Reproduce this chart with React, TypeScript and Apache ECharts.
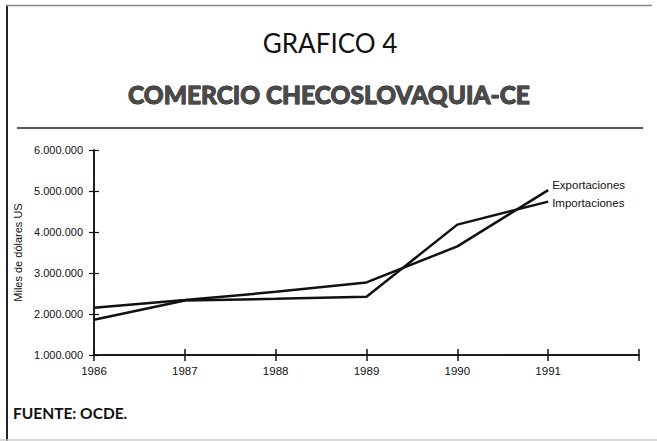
import React, { useEffect, useRef } from "react";
import * as echarts from "echarts";

const years = [1986, 1987, 1988, 1989, 1990, 1991];
const exportaciones = [2150000, 2340000, 2540000, 2770000, 3650000, 5020000];
const importaciones = [1860000, 2330000, 2370000, 2420000, 4180000, 4740000];
const seriesNames = ["Exportaciones", "Importaciones"];
const yMin = 1000000;
const yMax = 6000000;
const yStep = 1000000;
const xMin = 1986;
const xMax = 1992;

const NARROW = "'Liberation Sans', Arial, sans-serif";
const GEO = "Lato, 'Open Sans', sans-serif";
const INK = "#111";

function fmt(v: number): string {
  return String(Math.round(v)).replace(/\B(?=(\d{3})+(?!\d))/g, ".");
}

export default function App() {
  const ref = useRef<HTMLDivElement>(null);
  useEffect(() => {
    if (!ref.current) return;
    const chart = echarts.init(ref.current, null, { renderer: "svg" });
    const lineSeries = (name: string, vals: number[], offset: number[]) => ({
      name,
      type: "line",
      xAxisIndex: 0,
      yAxisIndex: 0,
      data: years.map((y, i) => [y, vals[i]]),
      symbol: "none",
      lineStyle: { color: INK, width: 2.5 },
      itemStyle: { color: INK },
      endLabel: {
        show: true,
        formatter: "{a}",
        distance: 4,
        offset,
        color: INK,
        fontFamily: NARROW,
        fontSize: 11.5,
      },
    });
    const xCommon = {
      type: "value",
      min: xMin,
      max: xMax,
      interval: 1,
      position: "bottom",
      splitLine: { show: false },
      axisLine: { show: true, lineStyle: { color: INK, width: 1.5 } },
    };
    const yCommon = {
      type: "value",
      min: yMin,
      max: yMax,
      interval: yStep,
      position: "left",
      splitLine: { show: false },
      axisLine: { show: true, lineStyle: { color: INK, width: 1.5 } },
    };
    chart.setOption({
      animation: false,
      backgroundColor: "#fff",
      grid: { left: 94, right: 18, top: 150, bottom: 86, containLabel: false },
      xAxis: [
        {
          ...xCommon,
          axisTick: { show: true, length: 6, lineStyle: { color: INK, width: 1.5 } },
          axisLabel: {
            formatter: (v: number) => (v === xMax ? "" : String(v)),
            margin: 10,
            color: INK,
            fontFamily: NARROW,
            fontSize: 11.5,
          },
        },
        {
          ...xCommon,
          axisTick: { show: true, inside: true, length: 6, lineStyle: { color: INK, width: 1.5 } },
          axisLabel: { show: false },
        },
      ],
      yAxis: [
        {
          ...yCommon,
          name: "Miles de dólares US",
          nameLocation: "middle",
          nameGap: 67,
          nameRotate: 90,
          nameTextStyle: { color: INK, fontFamily: NARROW, fontSize: 11 },
          axisTick: { show: true, length: 5, lineStyle: { color: INK, width: 1.2 } },
          axisLabel: {
            formatter: (v: number) => fmt(v),
            margin: 11,
            color: INK,
            fontFamily: NARROW,
            fontSize: 11,
          },
        },
        {
          ...yCommon,
          axisTick: { show: true, inside: true, length: 5, lineStyle: { color: INK, width: 1.2 } },
          axisLabel: { show: false },
        },
      ],
      series: [
        lineSeries(seriesNames[0], exportaciones, [0, -5]),
        lineSeries(seriesNames[1], importaciones, [0, 1]),
      ],
      graphic: [
        { type: "line", shape: { x1: 7, y1: 5, x2: 7, y2: 441 }, style: { stroke: "#222", lineWidth: 2 } },
        { type: "line", shape: { x1: 6, y1: 5.5, x2: 652, y2: 5.5 }, style: { stroke: "#888", lineWidth: 1.5 } },
        { type: "line", shape: { x1: 17, y1: 128, x2: 643, y2: 128 }, style: { stroke: "#222", lineWidth: 1.5 } },
        { type: "line", shape: { x1: 0, y1: 440, x2: 657, y2: 440 }, style: { stroke: "#ccc", lineWidth: 1.5 } },
        {
          type: "text",
          x: 330,
          y: 43,
          style: {
            text: "GRAFICO 4",
            fill: INK,
            font: `400 26px ${GEO}`,
            align: "center",
            verticalAlign: "middle",
          },
        },
        {
          type: "text",
          x: 329,
          y: 94,
          style: {
            text: "COMERCIO CHECOSLOVAQUIA-CE",
            fill: "#4a4a4a",
            stroke: "#000",
            lineWidth: 0.8,
            font: `900 24.5px ${GEO}`,
            align: "center",
            verticalAlign: "middle",
          },
        },
        {
          type: "text",
          x: 13,
          y: 413,
          style: {
            text: "FUENTE: OCDE.",
            fill: INK,
            font: `700 15.5px ${GEO}`,
            align: "left",
            verticalAlign: "middle",
          },
        },
      ],
    });
    return () => chart.dispose();
  }, []);
  return (
    <div
      ref={ref}
      style={{ position: "absolute", left: 0, top: 0, width: 657, height: 441, background: "#fff" }}
    />
  );
}
